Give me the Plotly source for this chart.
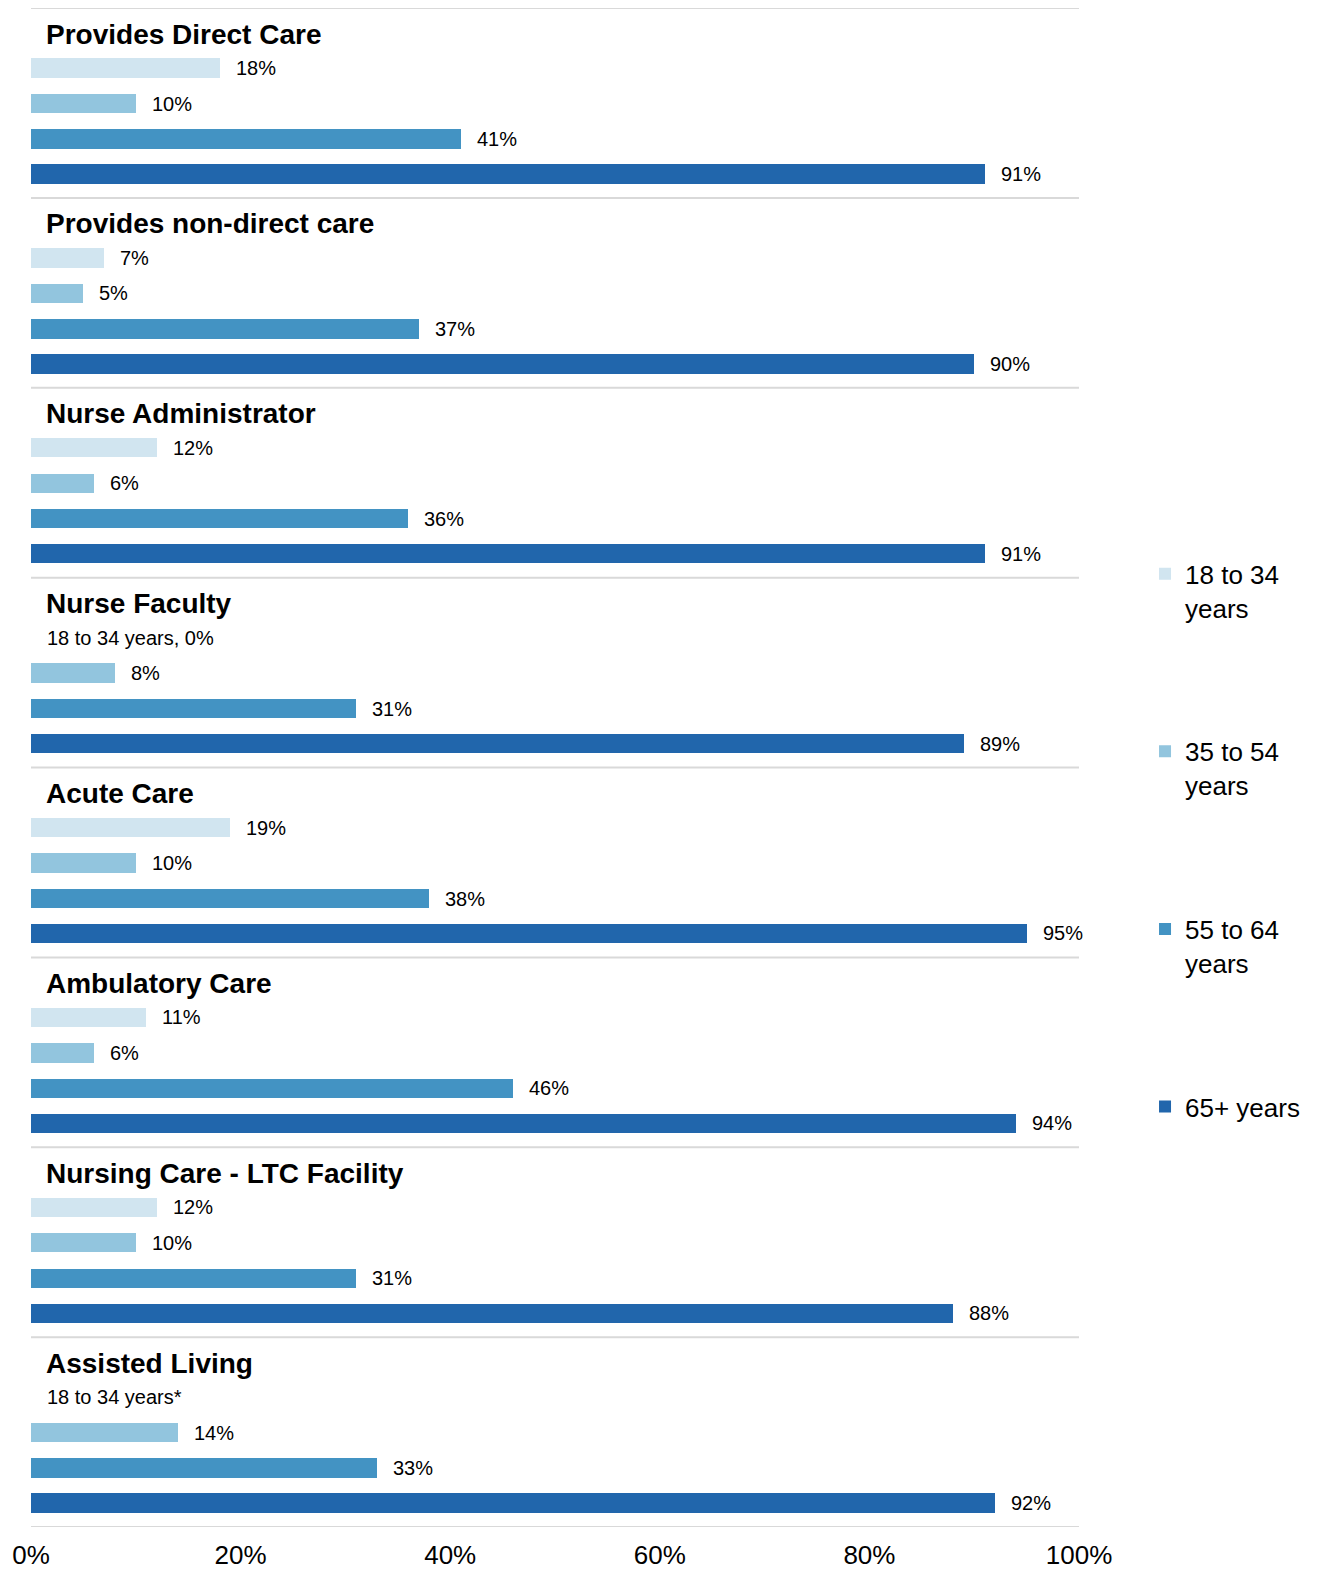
import plotly.graph_objects as go

# Share of nurses by age band, per employment setting / role
categories = [
    "Provides Direct Care",
    "Provides non-direct care",
    "Nurse Administrator",
    "Nurse Faculty",
    "Acute Care",
    "Ambulatory Care",
    "Nursing Care - LTC Facility",
    "Assisted Living",
]
series_names = ["18 to 34<br>years", "35 to 54<br>years", "55 to 64<br>years", "65+ years"]
age_18_34 = [18, 7, 12, 0, 19, 11, 12, None]
age_35_54 = [10, 5, 6, 8, 10, 6, 10, 14]
age_55_64 = [41, 37, 36, 31, 38, 46, 31, 33]
age_65_plus = [91, 90, 91, 89, 95, 94, 88, 92]
# Replacement labels for bars that are zero or suppressed
special_labels = {3: "18 to 34 years, 0%", 7: "18 to 34 years*"}

x_ticks = [0, 20, 40, 60, 80, 100]
x_tick_labels = ["0%", "20%", "40%", "60%", "80%", "100%"]

colors = ["#d1e5f0", "#92c5de", "#4393c3", "#2166ac"]
FONT = "Liberation Sans, Arial, sans-serif"

# Vertical layout of one category block (in y-axis units, 10 per block)
BLOCK = 10
TITLE_OFFSET = 1.32
ROW_OFFSETS = [3.16, 5.03, 6.9, 8.74]

all_series = [age_18_34, age_35_54, age_55_64, age_65_plus]
n = len(categories)

fig = go.Figure()
annotations = []
for s, (name, vals, col) in enumerate(zip(series_names, all_series, colors)):
    ys = [g * BLOCK + ROW_OFFSETS[s] for g in range(n)]
    fig.add_trace(go.Bar(
        x=vals, y=ys, orientation="h", name=name, width=1.02,
        marker=dict(color=col, line=dict(width=0)),
        legendgroup=str(s), hoverinfo="skip",
    ))
    for g, v in enumerate(vals):
        if s == 0 and g in special_labels:
            annotations.append(dict(
                x=0, y=ys[g], xref="x", yref="y", xanchor="left", yanchor="middle",
                xshift=14, text=special_labels[g], showarrow=False,
                font=dict(family=FONT, size=20, color="#000000"),
            ))
            continue
        if v is None:
            continue
        annotations.append(dict(
            x=v, y=ys[g], xref="x", yref="y", xanchor="left", yanchor="middle",
            xshift=14, text=f"{v}%", showarrow=False,
            font=dict(family=FONT, size=20, color="#000000"),
        ))

for g, cat in enumerate(categories):
    annotations.append(dict(
        x=0, y=g * BLOCK + TITLE_OFFSET + 0.05, xref="x", yref="y",
        xanchor="left", yanchor="middle", xshift=13,
        text=f"<b>{cat}</b>", showarrow=False,
        font=dict(family=FONT, size=28, color="#000000"),
    ))

# Separator rules between category blocks
shapes = [
    dict(type="line", xref="x", yref="y", x0=0, x1=100,
         y0=g * BLOCK, y1=g * BLOCK, layer="below",
         line=dict(color="#d9d9d9", width=2))
    for g in range(n + 1)
]

fig.update_layout(
    width=1320, height=1570,
    margin=dict(l=31, r=241, t=8, b=43, autoexpand=False),
    plot_bgcolor="white", paper_bgcolor="white",
    barmode="overlay", bargap=0,
    font=dict(family=FONT, color="#000000"),
    annotations=annotations, shapes=shapes,
    xaxis=dict(range=[0, 100], tickvals=x_ticks, ticktext=x_tick_labels,
               showgrid=False, zeroline=False, showline=False, ticks="",
               ticklabelstandoff=10, automargin=False,
               tickfont=dict(size=26, family=FONT, color="#000000")),
    yaxis=dict(range=[n * BLOCK, 0], showgrid=False, zeroline=False,
               showline=False, showticklabels=False, ticks="", automargin=False),
    legend=dict(x=1.063, xanchor="left", y=0.643, yanchor="top",
                valign="top", tracegroupgap=107, traceorder="grouped",
                font=dict(family=FONT, size=26, color="#000000"),
                bgcolor="rgba(0,0,0,0)"),
    showlegend=True,
)

fig.write_html("out.html")
